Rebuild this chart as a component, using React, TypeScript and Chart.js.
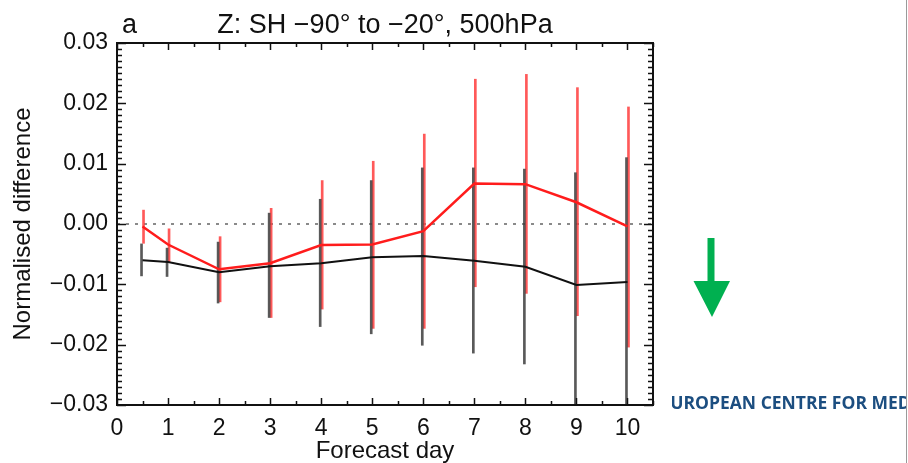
import React, { useEffect, useRef } from "react";
import { Chart, registerables } from "chart.js";

Chart.register(...registerables);

// ---------- data ----------
const days = [0.5, 1, 2, 3, 4, 5, 6, 7, 8, 9, 10];
const redMean = [-0.0004, -0.0034, -0.0075, -0.0065, -0.0035, -0.0034, -0.0012, 0.0067, 0.0066, 0.0036, -0.0004];
const redHigh = [0.0023, -0.0008, -0.0021, 0.0026, 0.0072, 0.0104, 0.0149, 0.024, 0.0248, 0.0226, 0.0194];
const redLow = [-0.0032, -0.0063, -0.0129, -0.0155, -0.0141, -0.0173, -0.0173, -0.0104, -0.0115, -0.0152, -0.0204];
const blackMean = [-0.006, -0.0063, -0.008, -0.007, -0.0065, -0.0055, -0.0053, -0.0061, -0.0071, -0.0101, -0.0096];
const blackHigh = [-0.0033, -0.004, -0.003, 0.0018, 0.0041, 0.0072, 0.0093, 0.0093, 0.0091, 0.0085, 0.011];
const blackLow = [-0.0086, -0.0087, -0.0131, -0.0155, -0.017, -0.0182, -0.0201, -0.0214, -0.0232, -0.031, -0.031];

const zeroLineX = [0, 10.5];
const zeroLineY = [0, 0];

const xTickValues = [0, 1, 2, 3, 4, 5, 6, 7, 8, 9, 10];
const yTickValues = [-0.03, -0.02, -0.01, 0, 0.01, 0.02, 0.03];
const yTickLabels = ["\u22120.03", "\u22120.02", "\u22120.01", "0.00", "0.01", "0.02", "0.03"];

const titleText = "Z: SH \u221290\u00b0 to \u221220\u00b0, 500hPa";
const panelLabel = "a";
const xTitle = "Forecast day";
const yTitle = "Normalised difference";
const footerText = "EUROPEAN CENTRE FOR MEDIUM-RANGE WEATHER FORECASTS";

const FONT = '"Liberation Sans", Arial, Helvetica, sans-serif';

const idlAxes = {
  id: "idlAxes",
  afterDatasetsDraw(chart: any) {
    const { ctx, chartArea, scales } = chart;
    const { left, right, top, bottom } = chartArea;
    const x = scales.x;
    const y = scales.y;
    ctx.save();
    ctx.strokeStyle = "#111";
    ctx.lineWidth = 1.5;
    ctx.beginPath();
    for (let k = 0; k <= 21; k++) {
      const v = k / 2;
      const px = Math.round(x.getPixelForValue(v)) + 0.5;
      const len = k % 2 === 0 ? 7 : 4;
      ctx.moveTo(px, bottom);
      ctx.lineTo(px, bottom - len);
      ctx.moveTo(px, top);
      ctx.lineTo(px, top + len);
    }
    for (let i = -30; i <= 30; i++) {
      const py = Math.round(y.getPixelForValue(i / 1000)) + 0.5;
      const len = i % 10 === 0 ? 9 : 5;
      ctx.moveTo(left, py);
      ctx.lineTo(left + len, py);
      ctx.moveTo(right, py);
      ctx.lineTo(right - len, py);
    }
    ctx.stroke();
    ctx.lineWidth = 2;
    ctx.strokeRect(left, top, right - left, bottom - top);
    ctx.fillStyle = "#111";
    ctx.font = "27px " + FONT;
    ctx.textBaseline = "alphabetic";
    ctx.textAlign = "center";
    ctx.fillText(titleText, (left + right) / 2, 33);
    ctx.textAlign = "left";
    ctx.fillText(panelLabel, left + 5, 33);
    ctx.restore();
  },
};

export default function App() {
  const ref = useRef<HTMLCanvasElement | null>(null);

  useEffect(() => {
    document.body.style.margin = "0";
    const canvas = ref.current;
    if (!canvas) return;
    const chart = new Chart(canvas, {
      type: "bar",
      data: {
        datasets: [
          {
            type: "line",
            label: "zero",
            data: zeroLineX.map((v, i) => ({ x: v, y: zeroLineY[i] })),
            borderColor: "#8a8a8a",
            borderWidth: 2,
            borderDash: [3, 6],
            pointRadius: 0,
            order: 5,
          } as any,
          {
            type: "line",
            label: "red",
            data: days.map((d, i) => ({ x: d, y: redMean[i] })),
            borderColor: "#ff1c1c",
            borderWidth: 2.5,
            pointRadius: 0,
            order: 0,
          } as any,
          {
            type: "line",
            label: "black",
            data: days.map((d, i) => ({ x: d, y: blackMean[i] })),
            borderColor: "#111",
            borderWidth: 2,
            pointRadius: 0,
            order: 1,
          } as any,
          {
            type: "bar",
            label: "black range",
            data: days.map((d, i) => ({ x: d, y: [blackLow[i], blackHigh[i]] })),
            backgroundColor: "rgba(60,60,60,0.85)",
            barThickness: 2,
            order: 2,
          } as any,
          {
            type: "bar",
            label: "red range",
            data: days.map((d, i) => ({ x: d, y: [redLow[i], redHigh[i]] })),
            backgroundColor: "rgba(255,60,60,0.85)",
            barThickness: 2,
            order: 3,
          } as any,
        ],
      },
      options: {
        animation: false,
        responsive: false,
        devicePixelRatio: 1,
        events: [],
        layout: { padding: { top: 43, right: 255, left: 0, bottom: 0 } },
        plugins: { legend: { display: false }, tooltip: { enabled: false }, title: { display: false } },
        scales: {
          x: {
            type: "linear",
            min: 0,
            max: 10.5,
            offset: false,
            grid: { display: false },
            border: { display: false },
            afterBuildTicks: (s: any) => {
              s.ticks = xTickValues.map((v) => ({ value: v }));
            },
            afterFit: (s: any) => {
              s.height = 58;
            },
            ticks: {
              autoSkip: false,
              maxRotation: 0,
              padding: 2,
              color: "#111",
              font: { family: FONT, size: 23 },
              callback: (v: any) => String(v),
            },
            title: {
              display: true,
              text: xTitle,
              color: "#111",
              font: { family: FONT, size: 24, lineHeight: 1 },
              padding: { top: 0, bottom: 0 },
            },
          },
          y: {
            type: "linear",
            min: -0.03,
            max: 0.03,
            grid: { display: false },
            border: { display: false },
            afterBuildTicks: (s: any) => {
              s.ticks = yTickValues.map((v) => ({ value: v }));
            },
            afterFit: (s: any) => {
              s.width = 117;
            },
            ticks: {
              autoSkip: false,
              padding: 1,
              color: "#111",
              font: { family: FONT, size: 23 },
              callback: (_v: any, i: number) => yTickLabels[i],
            },
            title: {
              display: true,
              text: yTitle,
              color: "#111",
              font: { family: FONT, size: 24, lineHeight: 1 },
              padding: { top: 11, bottom: 0 },
            },
          },
        },
      } as any,
      plugins: [idlAxes],
    });
    return () => chart.destroy();
  }, []);

  return (
    <div
      style={{
        position: "absolute",
        left: 0,
        top: 0,
        width: 908,
        height: 463,
        background: "#fff",
        overflow: "hidden",
      }}
    >
      <canvas ref={ref} width={908} height={463} style={{ position: "absolute", left: 0, top: 0 }} />
      <svg width={908} height={463} style={{ position: "absolute", left: 0, top: 0, pointerEvents: "none" }}>
        <polygon
          points="707.5,238 714.5,238 714.5,281 730,281 712,317 693.5,281 707.5,281"
          fill="#00b050"
        />
        <line x1={906.5} y1={0} x2={906.5} y2={463} stroke="#9a9a9a" strokeWidth={1} />
      </svg>
      <div
        style={{
          position: "absolute",
          left: 672,
          top: 390,
          width: 234,
          height: 26,
          overflow: "hidden",
        }}
      >
        <div
          style={{
            position: "absolute",
            left: -11.5,
            top: 2,
            whiteSpace: "nowrap",
            fontFamily: '"Open Sans", sans-serif',
            fontWeight: 700,
            fontSize: 17.5,
            lineHeight: "20px",
            color: "#1c4e80",
          }}
        >
          {footerText}
        </div>
      </div>
    </div>
  );
}
